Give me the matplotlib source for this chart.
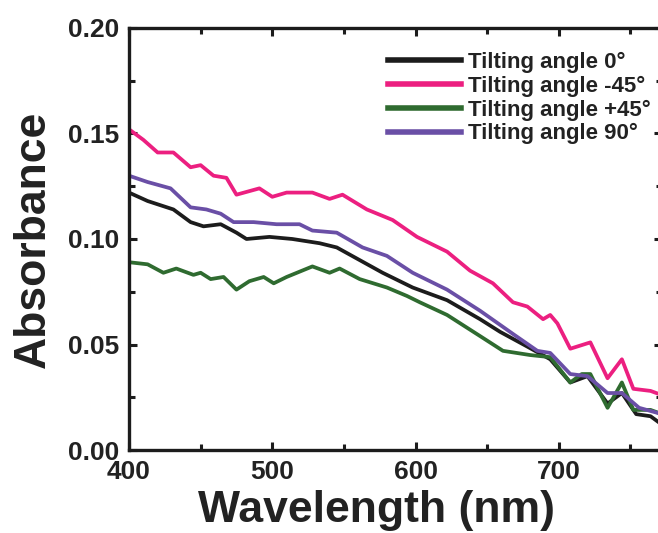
import matplotlib
matplotlib.use('Agg')
import matplotlib.pyplot as plt
from matplotlib.ticker import MultipleLocator

plt.rcParams['font.family'] = ['Liberation Sans', 'DejaVu Sans']
plt.rcParams['font.weight'] = 'bold'

# absorbance spectra (wavelength nm, absorbance)
wl_0 = [400, 413, 431, 443, 452, 464, 475, 482, 498, 514, 533, 545, 561, 577, 598,
        622, 645, 659, 678, 694, 708, 720, 734, 744, 754, 764, 772]
abs_0 = [0.122, 0.118, 0.114, 0.108, 0.106, 0.107, 0.103, 0.100, 0.101, 0.100, 0.098,
         0.096, 0.090, 0.084, 0.077, 0.071, 0.062, 0.056, 0.049, 0.043, 0.032, 0.035,
         0.022, 0.027, 0.017, 0.016, 0.012]

wl_m45 = [400, 410, 420, 431, 443, 450, 459, 468, 475, 491, 500, 510, 528, 540, 549,
          566, 584, 601, 622, 638, 654, 668, 678, 689, 694, 699, 708, 722, 734, 744,
          752, 764, 772]
abs_m45 = [0.152, 0.147, 0.141, 0.141, 0.134, 0.135, 0.130, 0.129, 0.121, 0.124, 0.120,
           0.122, 0.122, 0.119, 0.121, 0.114, 0.109, 0.101, 0.094, 0.085, 0.079, 0.070,
           0.068, 0.062, 0.064, 0.060, 0.048, 0.051, 0.034, 0.043, 0.029, 0.028, 0.026]

wl_p45 = [400, 413, 424, 433, 445, 450, 457, 466, 475, 484, 494, 501, 510, 528, 540,
          547, 561, 580, 594, 603, 622, 645, 661, 680, 694, 708, 716, 722, 734, 744,
          752, 764, 772]
abs_p45 = [0.089, 0.088, 0.084, 0.086, 0.083, 0.084, 0.081, 0.082, 0.076, 0.080, 0.082,
           0.079, 0.082, 0.087, 0.084, 0.086, 0.081, 0.077, 0.073, 0.070, 0.064, 0.054,
           0.047, 0.045, 0.044, 0.032, 0.036, 0.036, 0.020, 0.032, 0.019, 0.019, 0.017]

wl_90 = [400, 413, 429, 443, 454, 464, 473, 487, 503, 519, 528, 545, 563, 580, 598,
         622, 645, 668, 685, 694, 708, 720, 734, 744, 756, 772]
abs_90 = [0.130, 0.127, 0.124, 0.115, 0.114, 0.112, 0.108, 0.108, 0.107, 0.107, 0.104,
          0.103, 0.096, 0.092, 0.084, 0.076, 0.066, 0.055, 0.047, 0.046, 0.036, 0.035,
          0.027, 0.027, 0.020, 0.017]

labels = ['Tilting angle 0°', 'Tilting angle -45°', 'Tilting angle +45°', 'Tilting angle 90°']
colors = ['#1c1c1c', '#ec1f80', '#2f6b30', '#6a4fa6']

W, H = 658, 533
fig = plt.figure(figsize=(W / 100, H / 100), dpi=100)
# right spine sits just outside the picture, as in the reference
ax = fig.add_axes([129 / W, (H - 450) / H, (662 - 129) / W, (450 - 28) / H])

series = [(wl_0, abs_0), (wl_m45, abs_m45), (wl_p45, abs_p45), (wl_90, abs_90)]
for (x, y), lab, c in zip(series, labels, colors):
    ax.plot(x, y, color=c, lw=2.7, label=lab)

ax.set_xlim(400, 772)
ax.set_ylim(0, 0.20)
ax.xaxis.set_major_locator(MultipleLocator(100))
ax.xaxis.set_minor_locator(MultipleLocator(50))
ax.yaxis.set_major_locator(MultipleLocator(0.05))
ax.yaxis.set_minor_locator(MultipleLocator(0.025))
ax.yaxis.set_major_formatter(plt.FormatStrFormatter('%.2f'))

for s in ax.spines.values():
    s.set_linewidth(2.4)
    s.set_color('#1c1c1c')
ax.tick_params(which='both', direction='in', top=True, right=True, width=2.2,
               colors='#1c1c1c', labelsize=19, pad=7)
ax.tick_params(which='major', length=6)
ax.tick_params(which='minor', length=4)
for t in ax.get_xticklabels() + ax.get_yticklabels():
    t.set_fontweight('bold')
    t.set_color('#222222')

ax.set_xlabel('Wavelength (nm)', fontsize=32, fontweight='bold', color='#222222')
ax.xaxis.set_label_coords((376 - 129) / (662 - 129), -0.094)
ax.xaxis.label.set_va('top')
ax.set_ylabel('Absorbance', fontsize=32, fontweight='bold', color='#222222', labelpad=10)

ax.legend(loc='upper left', bbox_to_anchor=(388 / W, 1 - 52 / H),
          bbox_transform=fig.transFigure, frameon=False, fontsize=16,
          handlelength=3.3, handletextpad=0.3, labelspacing=0.12,
          borderpad=0, borderaxespad=0)
for lh in ax.get_legend().get_lines():
    lh.set_linewidth(4)
for t in ax.get_legend().get_texts():
    t.set_fontweight('bold')
    t.set_color('#222222')

fig.savefig('out.png', dpi=100)
